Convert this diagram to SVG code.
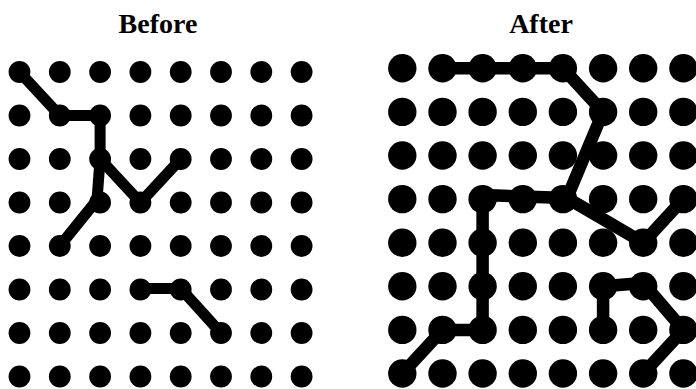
<svg xmlns="http://www.w3.org/2000/svg" xmlns:xlink="http://www.w3.org/1999/xlink" width="696" height="389" viewBox="0 0 696 389">
<defs>
<style>
.title{font-family:"Liberation Serif","Times New Roman",serif;font-weight:bold;font-size:28px;fill:#000;text-anchor:middle}
.ds{fill:#000}
.dl{fill:#000}
.wl{fill:none;stroke:#000;stroke-width:11;stroke-linecap:round;stroke-linejoin:round}
.wr{fill:none;stroke:#000;stroke-width:12.5;stroke-linecap:round;stroke-linejoin:round}
</style>
<circle id="sdot" r="10.9" class="ds"/>
<circle id="ldot" r="14.2" class="dl"/>
</defs>
<rect width="696" height="389" fill="#fff"/>
<text class="title" x="158" y="33">Before</text>
<text class="title" x="541" y="33">After</text>
<g id="before-grid">
<g id="b-r0"><use id="b00" href="#sdot" x="19.5" y="72"/><use id="b01" href="#sdot" x="59.8" y="72"/><use id="b02" href="#sdot" x="100.1" y="72"/><use id="b03" href="#sdot" x="140.4" y="72"/><use id="b04" href="#sdot" x="180.7" y="72"/><use id="b05" href="#sdot" x="221" y="72"/><use id="b06" href="#sdot" x="261.3" y="72"/><use id="b07" href="#sdot" x="301.6" y="72"/></g>
<g id="b-r1"><use id="b10" href="#sdot" x="19.5" y="115.5"/><use id="b11" href="#sdot" x="59.8" y="115.5"/><use id="b12" href="#sdot" x="100.1" y="115.5"/><use id="b13" href="#sdot" x="140.4" y="115.5"/><use id="b14" href="#sdot" x="180.7" y="115.5"/><use id="b15" href="#sdot" x="221" y="115.5"/><use id="b16" href="#sdot" x="261.3" y="115.5"/><use id="b17" href="#sdot" x="301.6" y="115.5"/></g>
<g id="b-r2"><use id="b20" href="#sdot" x="19.5" y="159"/><use id="b21" href="#sdot" x="59.8" y="159"/><use id="b22" href="#sdot" x="100.1" y="159"/><use id="b23" href="#sdot" x="140.4" y="159"/><use id="b24" href="#sdot" x="180.7" y="159"/><use id="b25" href="#sdot" x="221" y="159"/><use id="b26" href="#sdot" x="261.3" y="159"/><use id="b27" href="#sdot" x="301.6" y="159"/></g>
<g id="b-r3"><use id="b30" href="#sdot" x="19.5" y="202.5"/><use id="b31" href="#sdot" x="59.8" y="202.5"/><use id="b32" href="#sdot" x="100.1" y="202.5"/><use id="b33" href="#sdot" x="140.4" y="202.5"/><use id="b34" href="#sdot" x="180.7" y="202.5"/><use id="b35" href="#sdot" x="221" y="202.5"/><use id="b36" href="#sdot" x="261.3" y="202.5"/><use id="b37" href="#sdot" x="301.6" y="202.5"/></g>
<g id="b-r4"><use id="b40" href="#sdot" x="19.5" y="246"/><use id="b41" href="#sdot" x="59.8" y="246"/><use id="b42" href="#sdot" x="100.1" y="246"/><use id="b43" href="#sdot" x="140.4" y="246"/><use id="b44" href="#sdot" x="180.7" y="246"/><use id="b45" href="#sdot" x="221" y="246"/><use id="b46" href="#sdot" x="261.3" y="246"/><use id="b47" href="#sdot" x="301.6" y="246"/></g>
<g id="b-r5"><use id="b50" href="#sdot" x="19.5" y="289.5"/><use id="b51" href="#sdot" x="59.8" y="289.5"/><use id="b52" href="#sdot" x="100.1" y="289.5"/><use id="b53" href="#sdot" x="140.4" y="289.5"/><use id="b54" href="#sdot" x="180.7" y="289.5"/><use id="b55" href="#sdot" x="221" y="289.5"/><use id="b56" href="#sdot" x="261.3" y="289.5"/><use id="b57" href="#sdot" x="301.6" y="289.5"/></g>
<g id="b-r6"><use id="b60" href="#sdot" x="19.5" y="333"/><use id="b61" href="#sdot" x="59.8" y="333"/><use id="b62" href="#sdot" x="100.1" y="333"/><use id="b63" href="#sdot" x="140.4" y="333"/><use id="b64" href="#sdot" x="180.7" y="333"/><use id="b65" href="#sdot" x="221" y="333"/><use id="b66" href="#sdot" x="261.3" y="333"/><use id="b67" href="#sdot" x="301.6" y="333"/></g>
<g id="b-r7"><use id="b70" href="#sdot" x="19.5" y="376.5"/><use id="b71" href="#sdot" x="59.8" y="376.5"/><use id="b72" href="#sdot" x="100.1" y="376.5"/><use id="b73" href="#sdot" x="140.4" y="376.5"/><use id="b74" href="#sdot" x="180.7" y="376.5"/><use id="b75" href="#sdot" x="221" y="376.5"/><use id="b76" href="#sdot" x="261.3" y="376.5"/><use id="b77" href="#sdot" x="301.6" y="376.5"/></g>
</g>
<g id="after-grid">
<g id="a-r0"><use id="a00" href="#ldot" x="402.3" y="68.3"/><use id="a01" href="#ldot" x="442.5" y="68.3"/><use id="a02" href="#ldot" x="482.6" y="68.3"/><use id="a03" href="#ldot" x="522.8" y="68.3"/><use id="a04" href="#ldot" x="562.9" y="68.3"/><use id="a05" href="#ldot" x="603.1" y="68.3"/><use id="a06" href="#ldot" x="643.2" y="68.3"/><use id="a07" href="#ldot" x="683.4" y="68.3"/></g>
<g id="a-r1"><use id="a10" href="#ldot" x="402.3" y="111.9"/><use id="a11" href="#ldot" x="442.5" y="111.9"/><use id="a12" href="#ldot" x="482.6" y="111.9"/><use id="a13" href="#ldot" x="522.8" y="111.9"/><use id="a14" href="#ldot" x="562.9" y="111.9"/><use id="a15" href="#ldot" x="603.1" y="111.9"/><use id="a16" href="#ldot" x="643.2" y="111.9"/><use id="a17" href="#ldot" x="683.4" y="111.9"/></g>
<g id="a-r2"><use id="a20" href="#ldot" x="402.3" y="155.5"/><use id="a21" href="#ldot" x="442.5" y="155.5"/><use id="a22" href="#ldot" x="482.6" y="155.5"/><use id="a23" href="#ldot" x="522.8" y="155.5"/><use id="a24" href="#ldot" x="562.9" y="155.5"/><use id="a25" href="#ldot" x="603.1" y="155.5"/><use id="a26" href="#ldot" x="643.2" y="155.5"/><use id="a27" href="#ldot" x="683.4" y="155.5"/></g>
<g id="a-r3"><use id="a30" href="#ldot" x="402.3" y="199.1"/><use id="a31" href="#ldot" x="442.5" y="199.1"/><use id="a32" href="#ldot" x="482.6" y="199.1"/><use id="a33" href="#ldot" x="522.8" y="199.1"/><use id="a34" href="#ldot" x="562.9" y="199.1"/><use id="a35" href="#ldot" x="603.1" y="199.1"/><use id="a36" href="#ldot" x="643.2" y="199.1"/><use id="a37" href="#ldot" x="683.4" y="199.1"/></g>
<g id="a-r4"><use id="a40" href="#ldot" x="402.3" y="242.7"/><use id="a41" href="#ldot" x="442.5" y="242.7"/><use id="a42" href="#ldot" x="482.6" y="242.7"/><use id="a43" href="#ldot" x="522.8" y="242.7"/><use id="a44" href="#ldot" x="562.9" y="242.7"/><use id="a45" href="#ldot" x="603.1" y="242.7"/><use id="a46" href="#ldot" x="643.2" y="242.7"/><use id="a47" href="#ldot" x="683.4" y="242.7"/></g>
<g id="a-r5"><use id="a50" href="#ldot" x="402.3" y="286.3"/><use id="a51" href="#ldot" x="442.5" y="286.3"/><use id="a52" href="#ldot" x="482.6" y="286.3"/><use id="a53" href="#ldot" x="522.8" y="286.3"/><use id="a54" href="#ldot" x="562.9" y="286.3"/><use id="a55" href="#ldot" x="603.1" y="286.3"/><use id="a56" href="#ldot" x="643.2" y="286.3"/><use id="a57" href="#ldot" x="683.4" y="286.3"/></g>
<g id="a-r6"><use id="a60" href="#ldot" x="402.3" y="329.9"/><use id="a61" href="#ldot" x="442.5" y="329.9"/><use id="a62" href="#ldot" x="482.6" y="329.9"/><use id="a63" href="#ldot" x="522.8" y="329.9"/><use id="a64" href="#ldot" x="562.9" y="329.9"/><use id="a65" href="#ldot" x="603.1" y="329.9"/><use id="a66" href="#ldot" x="643.2" y="329.9"/><use id="a67" href="#ldot" x="683.4" y="329.9"/></g>
<g id="a-r7"><use id="a70" href="#ldot" x="402.3" y="373.5"/><use id="a71" href="#ldot" x="442.5" y="373.5"/><use id="a72" href="#ldot" x="482.6" y="373.5"/><use id="a73" href="#ldot" x="522.8" y="373.5"/><use id="a74" href="#ldot" x="562.9" y="373.5"/><use id="a75" href="#ldot" x="603.1" y="373.5"/><use id="a76" href="#ldot" x="643.2" y="373.5"/><use id="a77" href="#ldot" x="683.4" y="373.5"/></g>
</g>
<g id="connectors">
<polyline class="wl" points="19.5,72 59.8,115.5 100.1,115.5 100.1,159 97,200 59.8,246"/>
<polyline class="wl" points="100.1,159 140.4,202.5 180.7,159"/>
<polyline class="wl" points="140.4,288.5 180.7,288.5 221,333"/>
<polyline class="wr" points="442.5,68.3 482.6,68.3 522.8,68.3 562.9,68.3 603.1,111.9 567,198 482.6,195 482.6,329.9 442.5,329.9 402.3,373.5"/>
<polyline class="wr" points="567,198 643.2,242.7 683.4,199.1"/>
<polyline class="wr" points="603.1,329.9 603.1,286.3 643.2,283 683.4,329.9 643.2,373.5"/>
</g>
</svg>
